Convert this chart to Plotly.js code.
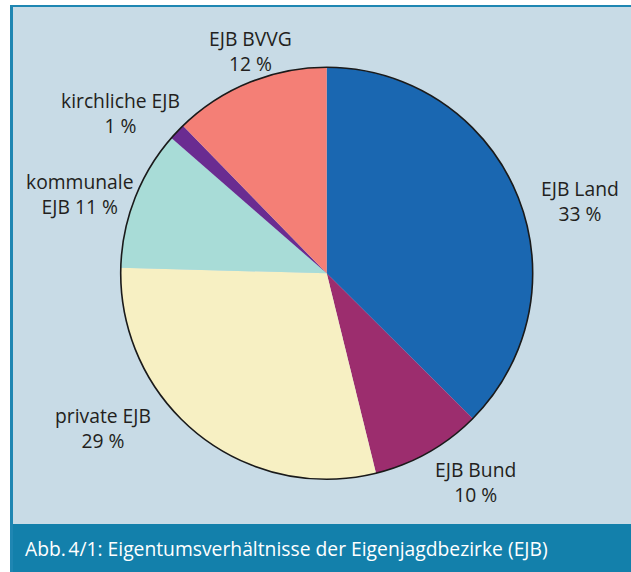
<!DOCTYPE html>
<html>
<head>
<meta charset="utf-8">
<script src="https://cdn.plot.ly/plotly-3.0.1.min.js"></script>
<style>html,body{margin:0;padding:0;background:#fff;}#chart{width:631px;height:572px;}</style>
</head>
<body>
<div id="chart"></div>
<script>
const categories = ["EJB Land", "EJB Bund", "private EJB", "kommunale EJB", "kirchliche EJB", "EJB BVVG"];
const shares = [37.5, 8.7, 29.3, 11.0, 1.3, 12.3];
const labelPercents = ["33 %", "10 %", "29 %", "11 %", "1 %", "12 %"];
const labelLines = [
  ["EJB Land", "33 %"],
  ["EJB Bund", "10 %"],
  ["private EJB", "29 %"],
  ["kommunale", "EJB 11 %"],
  ["kirchliche EJB", "1 %"],
  ["EJB BVVG", "12 %"]
];
const sliceColors = ["#1a67b1", "#9c2d6e", "#f7f0c3", "#a8dcd7", "#6a2c91", "#f47f76"];
const caption = "Abb.\u202F4/1: Eigentumsverhältnisse der Eigenjagdbezirke (EJB)";

// Layout helpers (pixel -> paper)
const W = 631, H = 572;
const px = v => v / W;
const py = v => 1 - v / H;

const cx = 326.7, cy = 273.3, r = 206;
const dom = {x: [px(cx - r), px(cx + r)], y: [py(cy + r), py(cy - r)]};

// label block centres (pixels), same order as categories
const labelPos = [[580, 201], [475, 482], [103, 428], [80, 194.5], [120, 112.5], [250, 51]];
const labelFont = {family: "Open Sans, Noto Sans, sans-serif", size: 19.3, color: "#231f20"};

const traces = [
  {
    type: "pie",
    labels: categories,
    values: shares,
    sort: false,
    direction: "clockwise",
    rotation: 0,
    marker: {colors: sliceColors, line: {width: 0}},
    textinfo: "none",
    hoverinfo: "label",
    showlegend: false,
    domain: dom
  },
  {
    type: "pie",
    labels: ["outline"],
    values: [1],
    sort: false,
    marker: {colors: ["rgba(0,0,0,0)"], line: {color: "#1a1a1a", width: 1.6}},
    textinfo: "none",
    hoverinfo: "skip",
    showlegend: false,
    domain: dom
  }
];

const annotations = categories.map((c, i) => ({
  text: labelLines[i].join("<br>"),
  x: px(labelPos[i][0]), y: py(labelPos[i][1]),
  xref: "paper", yref: "paper",
  xanchor: "center", yanchor: "middle",
  showarrow: false, align: "center", borderpad: 0,
  font: labelFont
}));
annotations.push({
  text: caption,
  x: px(24), y: py(548.5),
  xref: "paper", yref: "paper",
  xanchor: "left", yanchor: "middle",
  showarrow: false, borderpad: 0,
  font: {family: "Open Sans, Noto Sans, sans-serif", size: 19.3, color: "#ffffff"}
});

const shapes = [
  {type: "rect", xref: "paper", yref: "paper", x0: px(10), x1: 1, y0: py(524), y1: py(5), fillcolor: "#c8dbe6", line: {width: 0}, layer: "below"},
  {type: "rect", xref: "paper", yref: "paper", x0: px(10), x1: 1, y0: 0, y1: py(524), fillcolor: "#1380ab", line: {width: 0}, layer: "below"},
  {type: "rect", xref: "paper", yref: "paper", x0: px(10), x1: 1, y0: py(7), y1: py(5), fillcolor: "#1f86b2", line: {width: 0}, layer: "below"},
  {type: "rect", xref: "paper", yref: "paper", x0: px(10), x1: px(13), y0: 0, y1: py(5), fillcolor: "#1f86b2", line: {width: 0}, layer: "below"}
];

Plotly.newPlot("chart", traces, {
  width: W, height: H,
  margin: {l: 0, r: 0, t: 0, b: 0},
  paper_bgcolor: "#ffffff",
  plot_bgcolor: "rgba(0,0,0,0)",
  showlegend: false,
  shapes: shapes,
  annotations: annotations
}, {displayModeBar: false, staticPlot: true});
</script>
</body>
</html>
